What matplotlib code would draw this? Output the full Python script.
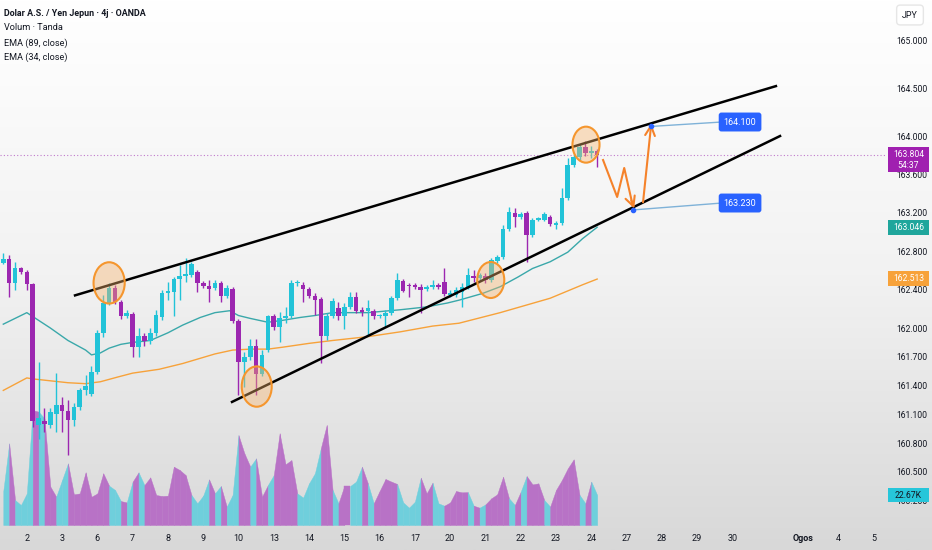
import matplotlib
matplotlib.use("Agg")
import matplotlib.pyplot as plt
import matplotlib.transforms as mtransforms
from matplotlib.colors import LinearSegmentedColormap
from matplotlib.patches import Ellipse, Rectangle
import numpy as np

plt.rcParams['font.family'] = ['Roboto', 'DejaVu Sans']

# 4h candles, USD/JPY (price)
opens = [162.68, 162.72, 162.47, 162.62, 162.58, 162.46, 160.99, 161.03, 160.99, 161.10,
         161.20, 161.14, 161.04, 161.18, 161.35, 161.31, 161.54, 161.95, 162.26, 162.42,
         162.27, 162.12, 162.15, 161.80, 161.92, 161.86, 161.95, 162.11, 162.36, 162.38,
         162.51, 162.54, 162.55, 162.58, 162.47, 162.44, 162.42, 162.47, 162.33, 162.41,
         162.07, 161.65, 161.70, 161.81, 161.52, 161.77, 162.12, 162.01, 162.10, 162.13,
         162.47, 162.45, 162.41, 162.33, 162.30, 161.92, 162.13, 162.21, 162.12, 162.22,
         162.32, 162.19, 162.18, 162.18, 162.12, 162.12, 162.16, 162.31, 162.49, 162.45,
         162.45, 162.43, 162.41, 162.43, 162.45, 162.48, 162.34, 162.34, 162.38, 162.43,
         162.54, 162.52, 162.54, 162.50, 162.70, 162.74, 163.03, 163.20, 163.16, 163.20,
         162.97, 163.13, 163.13, 163.16, 163.07, 163.09, 163.35, 163.70, 163.78, 163.89,
         163.82, 163.84]
closes = [162.72, 162.47, 162.63, 162.58, 162.46, 161.03, 161.06, 161.00, 161.13, 161.20,
          161.14, 161.04, 161.18, 161.35, 161.40, 161.54, 161.95, 162.26, 162.42, 162.27,
          162.12, 162.16, 161.80, 161.92, 161.86, 161.95, 162.14, 162.36, 162.39, 162.51,
          162.54, 162.56, 162.67, 162.47, 162.44, 162.41, 162.47, 162.33, 162.42, 162.07,
          161.65, 161.70, 161.81, 161.52, 161.72, 162.12, 162.01, 162.10, 162.13, 162.47,
          162.48, 162.41, 162.33, 162.29, 161.92, 162.13, 162.28, 162.12, 162.22, 162.32,
          162.18, 162.17, 162.21, 162.12, 162.13, 162.16, 162.31, 162.50, 162.39, 162.44,
          162.43, 162.40, 162.43, 162.45, 162.43, 162.35, 162.36, 162.40, 162.43, 162.55,
          162.52, 162.55, 162.50, 162.71, 162.74, 163.03, 163.21, 163.16, 163.19, 162.97,
          163.13, 163.14, 163.19, 163.08, 163.09, 163.35, 163.70, 163.78, 163.89, 163.82,
          163.84, 163.80]
highs = [162.78, 162.76, 162.69, 162.64, 162.60, 162.47, 161.65, 161.17, 161.17, 161.53,
         161.28, 161.25, 161.22, 161.38, 161.51, 161.60, 161.98, 162.34, 162.47, 162.45,
         162.29, 162.19, 162.17, 162.00, 161.95, 162.00, 162.19, 162.40, 162.48, 162.53,
         162.66, 162.73, 162.69, 162.60, 162.49, 162.50, 162.50, 162.49, 162.45, 162.43,
         162.09, 161.75, 161.89, 161.89, 161.77, 162.14, 162.15, 162.17, 162.22, 162.50,
         162.50, 162.48, 162.43, 162.36, 162.32, 162.16, 162.31, 162.27, 162.26, 162.38,
         162.38, 162.22, 162.29, 162.20, 162.15, 162.19, 162.33, 162.57, 162.51, 162.47,
         162.47, 162.46, 162.45, 162.50, 162.47, 162.62, 162.40, 162.43, 162.47, 162.63,
         162.60, 162.57, 162.57, 162.73, 162.76, 163.07, 163.26, 163.25, 163.21, 163.22,
         163.15, 163.16, 163.21, 163.18, 163.11, 163.46, 163.77, 163.81, 163.92, 163.95,
         163.90, 163.86]
lows = [162.67, 162.32, 162.40, 162.56, 162.40, 160.97, 160.84, 160.92, 160.96, 160.92,
        160.92, 160.68, 160.98, 161.15, 161.30, 161.29, 161.52, 161.91, 162.24, 162.25,
        162.09, 162.10, 161.70, 161.70, 161.81, 161.83, 161.92, 162.08, 162.29, 162.12,
        162.29, 162.48, 162.53, 162.38, 162.42, 162.27, 162.40, 162.27, 162.31, 162.05,
        161.30, 161.39, 161.67, 161.30, 161.50, 161.75, 161.98, 161.85, 162.05, 162.10,
        162.44, 162.27, 162.31, 162.14, 161.64, 161.88, 162.10, 162.08, 161.99, 162.20,
        162.16, 162.13, 161.93, 162.09, 162.10, 162.01, 162.14, 162.29, 162.37, 162.32,
        162.41, 162.16, 162.39, 162.41, 162.41, 162.33, 162.32, 162.32, 162.22, 162.41,
        162.48, 162.50, 162.47, 162.48, 162.68, 162.72, 163.01, 163.05, 163.14, 162.69,
        162.95, 163.11, 163.11, 163.06, 163.03, 163.07, 163.33, 163.68, 163.75, 163.79,
        163.77, 163.68]

# volume in thousands, and colour of each area segment (1 = cyan, 0 = purple)
volume = [25.7, 61.7, 18.9, 15.1, 23.9, 86.9, 85.7, 80.6, 29.0, 21.4,
          34.0, 46.6, 23.2, 23.9, 39.8, 21.4, 23.9, 39.1, 29.7, 26.5,
          18.1, 17.1, 32.8, 39.8, 30.2, 36.0, 22.7, 21.9, 22.2, 44.1,
          41.6, 37.8, 22.7, 16.4, 22.2, 34.5, 23.9, 29.5, 13.9, 22.7,
          68.0, 54.2, 44.1, 50.4, 21.4, 30.2, 37.8, 69.3, 45.9, 49.1,
          23.9, 20.7, 31.5, 39.1, 58.0, 75.6, 26.5, 16.4, 29.5, 29.5,
          32.8, 44.1, 31.5, 16.4, 25.7, 34.8, 32.8, 31.0, 17.1, 13.1,
          17.6, 35.8, 23.9, 32.0, 16.4, 14.6, 17.1, 25.7, 24.7, 24.9,
          14.6, 13.1, 15.6, 20.2, 23.2, 36.5, 20.2, 15.1, 25.2, 37.0,
          30.7, 31.5, 18.9, 13.9, 26.5, 34.0, 42.8, 49.6, 22.7, 16.4,
          32.8, 22.67]
vol_up = [1, 0, 1, 1, 1, 0, 1, 0, 0, 1,
          1, 0, 0, 0, 0, 0, 0, 0, 1, 1,
          0, 1, 0, 1, 0, 0, 0, 0, 0, 0,
          0, 0, 1, 1, 1, 0, 1, 0, 1, 1,
          0, 0, 1, 0, 0, 1, 0, 0, 0, 0,
          1, 1, 1, 1, 0, 0, 1, 0, 0, 1,
          1, 0, 1, 0, 0, 0, 0, 1, 1, 1,
          1, 0, 0, 1, 1, 0, 0, 0, 0, 1,
          0, 1, 0, 0, 0, 0, 1, 0, 1, 0,
          0, 0, 1, 0, 0, 0, 0, 0, 1, 0,
          1]

# EMA lines (bar index, price)
ema34_x = [0, 4, 5, 8, 11, 14, 15, 16.5, 18, 20, 22, 25, 28, 30.5, 33.5, 36, 38.5, 40, 42,
           45, 47.5, 50.5, 53, 56, 62, 67.5, 72, 75.5, 77.5, 81.5, 84.5, 87.5, 90, 93, 96,
           98.5, 101]
ema34_y = [162.04, 162.16, 162.12, 162.00, 161.87, 161.77, 161.72, 161.74, 161.79, 161.83,
           161.85, 161.87, 161.95, 162.03, 162.11, 162.16, 162.18, 162.13, 162.10, 162.06,
           162.08, 162.11, 162.13, 162.16, 162.16, 162.19, 162.22, 162.26, 162.29, 162.36,
           162.43, 162.53, 162.62, 162.69, 162.79, 162.93, 163.05]
ema89_x = [0, 4, 5, 11, 14, 16.5, 19.5, 22, 26.5, 30.5, 36, 39, 42, 45, 47.5, 52, 56, 62,
           67.5, 73, 77.5, 84.5, 93, 98.5, 101]
ema89_y = [161.35, 161.48, 161.47, 161.43, 161.42, 161.44, 161.49, 161.53, 161.57, 161.63,
           161.73, 161.77, 161.78, 161.78, 161.80, 161.84, 161.87, 161.91, 161.96, 162.02,
           162.05, 162.16, 162.31, 162.45, 162.51]

price_ticks = [165.0, 164.5, 164.0, 163.6, 163.2, 162.8, 162.4, 162.0, 161.7, 161.4,
               161.1, 160.8, 160.5, 160.2]
day_labels = ["2", "3", "6", "7", "8", "9", "10", "13", "14", "15", "16", "17", "20",
              "21", "22", "23", "24", "27", "28", "29", "30", "Ogos", "4", "5"]
day_slots = [0, 1, 2, 3, 4, 5, 6, 7, 8, 9, 10, 11, 12, 13, 14, 15, 16, 17, 18, 19, 20,
             22, 23, 24]

last_price = 163.804
ema34_last = 163.046
ema89_last = 162.513
vol_last = 22.67
target_hi = 164.100
target_lo = 163.230

UP = "#22c3d8"
DOWN = "#9c27b0"
VUP = "#6fcfdc"
VDOWN = "#b872c6"
TXT = "#131722"

fig = plt.figure(figsize=(9.32, 5.5), dpi=100)

# light grey vertical gradient behind everything
bg = fig.add_axes([0, 0, 1, 1])
bg.set_zorder(0)
cmap = LinearSegmentedColormap.from_list("bg", ["#ffffff", "#f2f2f2", "#d8d8d8"])
bg.imshow(np.linspace(0, 1, 256).reshape(-1, 1), aspect="auto", cmap=cmap,
          extent=[0, 1, 0, 1])
bg.axis("off")

rect = [0, 23 / 550, 885 / 932, 527 / 550]
xlim = (-0.56, 149.95)

ax_vol = fig.add_axes(rect)
ax_vol.set_zorder(1)
ax_vol.patch.set_alpha(0)
ax_vol.axis("off")
ax_vol.set_xlim(*xlim)
ax_vol.set_ylim(-1.5, 397)

ax = fig.add_axes(rect)
ax.set_zorder(2)
ax.patch.set_alpha(0)
ax.set_xlim(*xlim)
ax.set_ylim(159.927, 165.417)
for s in ax.spines.values():
    s.set_visible(False)

# volume area
for i in range(len(volume) - 1):
    c = VUP if vol_up[i] else VDOWN
    ax_vol.fill_between([i, i + 1], [volume[i], volume[i + 1]], 0, color=c,
                        lw=0.3, edgecolor=c)

# candles
idx = np.arange(len(opens))
o = np.array(opens)
c = np.array(closes)
cols = [UP if cc >= oo else DOWN for oo, cc in zip(o, c)]
ax.vlines(idx, lows, highs, colors=cols, lw=1, zorder=3)
body = np.where(np.abs(c - o) < 0.012, 0.012 * np.sign(c - o + 1e-9), c - o)
ax.bar(idx, body, bottom=o, width=0.78, color=cols, zorder=4, lw=0)

# EMAs
ax.plot(ema89_x, ema89_y, color="#f7a23a", lw=1, zorder=2)
ax.plot(ema34_x, ema34_y, color="#3aa8aa", lw=1, zorder=2)

# current price line
ax.axhline(last_price, color=DOWN, lw=0.8, ls=(0, (1, 2)), alpha=0.6, zorder=1)

# trend lines
ax.plot([12.2, 131.4], [162.34, 164.52], color="black", lw=1.8, zorder=6)
ax.plot([38.9, 132.1], [161.23, 164.00], color="black", lw=1.8, zorder=6)

# orange circles
for cx, cy, w, h in [(18.0, 162.47, 5.3, 0.43), (43.1, 161.39, 5.1, 0.42),
                     (82.9, 162.50, 4.6, 0.375), (99.1, 163.91, 4.6, 0.375)]:
    ax.add_patch(Ellipse((cx, cy), w, h, facecolor="#f7b36b", alpha=0.4, lw=0, zorder=7))
    ax.add_patch(Ellipse((cx, cy), w, h, facecolor="none", edgecolor="#f5962e",
                         lw=1.5, zorder=7))

# projected path
ORG = "#f5822a"
ax.plot([102.0, 104.4, 105.6, 107.0], [163.75, 163.365, 163.667, 163.29], color=ORG,
        lw=1.5, zorder=8)
ax.annotate("", xy=(107.3, 163.245), xytext=(106.8, 163.33),
            arrowprops=dict(arrowstyle="->,head_length=0.7,head_width=0.35", color=ORG,
                            lw=1.5, shrinkA=0, shrinkB=0), zorder=8)
ax.annotate("", xy=(110.2, 164.13), xytext=(108.8, 163.31),
            arrowprops=dict(arrowstyle="->,head_length=0.7,head_width=0.35", color=ORG,
                            lw=1.5, shrinkA=0, shrinkB=0), zorder=8)

# target labels
LINEB = "#7fb2d8"
BLUE = "#2962ff"
for px, py, ly in [(110.2, target_hi, 164.146), (107.1, target_lo, 163.302)]:
    ax.plot([px, 122.2], [py, ly], color=LINEB, lw=1, zorder=8)
    ax.plot(px, py, "o", ms=3, color=BLUE, zorder=9)
ax.text(125.3, 164.146, f"{target_hi:.3f}", color="white", fontsize=6.5, ha="center",
        va="center", zorder=9,
        bbox=dict(boxstyle="round,pad=0.55,rounding_size=0.3", fc=BLUE, ec="none"))
ax.text(125.3, 163.302, f"{target_lo:.3f}", color="white", fontsize=6.5, ha="center",
        va="center", zorder=9,
        bbox=dict(boxstyle="round,pad=0.55,rounding_size=0.3", fc=BLUE, ec="none"))

# axes ticks
ax.yaxis.tick_right()
ax.set_yticks(price_ticks)
ax.set_yticklabels([f"{t:.3f}" for t in price_ticks])
ax.tick_params(axis="y", length=0, pad=8.5, labelsize=6.2, labelcolor=TXT)
ax.set_xticks([4 + 6 * s for s in day_slots])
ax.set_xticklabels(day_labels)
ax.tick_params(axis="x", length=0, pad=5, labelsize=6.5, labelcolor=TXT)
for lab in ax.get_xticklabels():
    if lab.get_text() == "Ogos":
        lab.set_fontweight("bold")

# price scale boxes
bx0, bw = 888 / 932, 41 / 932
tr = mtransforms.blended_transform_factory(fig.transFigure, ax.transData)
trv = mtransforms.blended_transform_factory(fig.transFigure, ax_vol.transData)
xc = bx0 + bw / 2

fig.add_artist(Rectangle((bx0, 163.625), bw, 0.261, transform=tr, fc="#a020b0",
                         ec="none", zorder=10))
fig.text(xc, last_price, f"{last_price:.3f}", transform=tr, color="white", fontsize=6.2,
         ha="center", va="center", zorder=11)
fig.text(xc, 163.69, "54:37", transform=tr, color="white", fontsize=6.2,
         ha="center", va="center", zorder=11)
fig.add_artist(Rectangle((bx0, ema34_last - 0.08), bw, 0.16, transform=tr, fc="#1fa69c",
                         ec="none", zorder=10))
fig.text(xc, ema34_last, f"{ema34_last:.3f}", transform=tr, color="white", fontsize=6.2,
         ha="center", va="center", zorder=11)
fig.add_artist(Rectangle((bx0, ema89_last - 0.08), bw, 0.16, transform=tr, fc="#f7a23a",
                         ec="none", zorder=10))
fig.text(xc, ema89_last, f"{ema89_last:.3f}", transform=tr, color="white", fontsize=6.2,
         ha="center", va="center", zorder=11)
fig.add_artist(Rectangle((bx0, vol_last - 5.3), bw, 10.6, transform=trv, fc="#26c6da",
                         ec="none", zorder=10))
fig.text(xc, vol_last, f"{vol_last:.2f}K", transform=trv, color=TXT, fontsize=6.2,
         ha="center", va="center", zorder=11)

fig.text(910 / 932, 1 - 15 / 550, "JPY", color=TXT, fontsize=6.5, ha="center",
         va="center", zorder=11,
         bbox=dict(boxstyle="round,pad=0.6,rounding_size=0.4", fc="white", ec="#e6e6e6"))

# legend texts
fig.text(4 / 932, 1 - 14 / 550, "Dolar A.S. / Yen Jepun · 4j · OANDA", color=TXT,
         fontsize=6.4, fontweight="bold", va="center", zorder=11)
fig.text(4 / 932, 1 - 28 / 550, "Volum · Tanda", color=TXT, fontsize=6.6, va="center",
         zorder=11)
fig.text(4 / 932, 1 - 43 / 550, "EMA (89, close)", color=TXT, fontsize=6.6, va="center",
         zorder=11)
fig.text(4 / 932, 1 - 57 / 550, "EMA (34, close)", color=TXT, fontsize=6.6, va="center",
         zorder=11)

fig.savefig("out.png", dpi=100)
